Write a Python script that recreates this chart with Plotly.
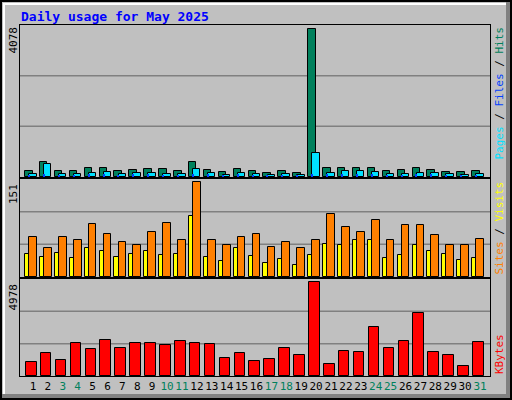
import plotly.graph_objects as go
from plotly.subplots import make_subplots

days = list(range(1, 32))
weekend = [3, 4, 10, 11, 17, 18, 24, 25, 31]
hits = [175, 425, 175, 175, 260, 260, 175, 205, 230, 230, 175, 425, 205, 150, 230, 175,
        120, 175, 120, 4078, 260, 260, 260, 260, 175, 205, 260, 205, 150, 150, 175]
files = [92, 370, 92, 92, 120, 148, 92, 120, 120, 92, 92, 230, 120, 65, 120, 92,
         65, 92, 65, 650, 120, 175, 175, 148, 92, 92, 120, 120, 92, 65, 92]
pages = [60, 80, 55, 60, 70, 75, 60, 70, 70, 60, 60, 90, 70, 45, 70, 60,
         45, 60, 45, 90, 70, 80, 80, 75, 60, 60, 70, 70, 60, 45, 60]
visits = [64, 46, 64, 58, 84, 68, 55, 51, 71, 86, 58, 151, 59, 51, 64, 69,
          48, 55, 46, 59, 100, 79, 71, 90, 58, 82, 82, 66, 51, 51, 61]
sites = [37, 32, 38, 30, 46, 41, 32, 37, 41, 35, 37, 97, 32, 25, 46, 33,
         22, 28, 19, 35, 53, 51, 59, 58, 30, 35, 50, 41, 37, 27, 30]
kbytes = [727, 1217, 836, 1763, 1435, 1926, 1490, 1763, 1763, 1653, 1871, 1763, 1708, 945, 1217, 781,
          890, 1490, 1108, 4978, 618, 1326, 1272, 2580, 1490, 1871, 3343, 1272, 1108, 509, 1817]

W, H = 512, 400
L, R = 20, 22
# panel pixel rows (top, bottom)
panels = [(25, 177), (179, 277), (279, 376)]
doms = [[1 - b / H, 1 - t / H] for t, b in panels]


def px(x):
    # pixel column -> paper x (paper is relative to the plot area)
    return (x - L) / (W - L - R)


fig = make_subplots(rows=3, cols=1, shared_xaxes=True)
line = dict(color='black', width=1)
fig.add_trace(go.Bar(x=days, y=hits, offset=-0.53, width=0.5, marker=dict(color='#00805c', line=line)), row=1, col=1)
fig.add_trace(go.Bar(x=days, y=files, offset=-0.26, width=0.5, marker=dict(color='#00e0ff', line=line)), row=1, col=1)
fig.add_trace(go.Bar(x=days, y=pages, offset=-0.3, width=0.07, marker=dict(color='#0040ff', line=dict(width=0))), row=1, col=1)
fig.add_trace(go.Bar(x=days, y=sites, offset=-0.53, width=0.27, marker=dict(color='#ffff00', line=line)), row=2, col=1)
fig.add_trace(go.Bar(x=days, y=visits, offset=-0.26, width=0.52, marker=dict(color='#ff8000', line=line)), row=2, col=1)
fig.add_trace(go.Bar(x=days, y=kbytes, offset=-0.47, width=0.71, marker=dict(color='#ff0000', line=line)), row=3, col=1)

ticktext = ["<span style='color:%s'>%d</span>" % ('#00805c' if d in weekend else 'black', d) for d in days]
font = dict(family='DejaVu Sans Mono', size=11, color='black')
for i in range(3):
    ax = 'xaxis' if i == 0 else 'xaxis%d' % (i + 1)
    ay = 'yaxis' if i == 0 else 'yaxis%d' % (i + 1)
    fig.layout[ax].update(range=[0.13, 31.67], showgrid=False, showline=True, linecolor='black',
                          mirror=True, zeroline=False, fixedrange=True, showticklabels=(i == 2),
                          tickvals=days, ticktext=ticktext, ticks='', tickfont=font, tickangle=0,
                          automargin=False)
    fig.layout[ay].update(domain=doms[i], showticklabels=False, showgrid=False, zeroline=False,
                          showline=True, linecolor='black', mirror=True, fixedrange=True)
    yref = 'y' if i == 0 else 'y%d' % (i + 1)
    for f in (1 / 3, 2 / 3):
        fig.add_shape(type='line', xref='x domain' if i == 0 else 'x%d domain' % (i + 1),
                      yref=yref + ' domain', x0=0, x1=1, y0=f, y1=f,
                      line=dict(color='#808080', width=1.5), layer='below')
fig.update_yaxes(range=[0, 4078 * 1.03], row=1, col=1)
fig.update_yaxes(range=[0, 151 * 1.03], row=2, col=1)
fig.update_yaxes(range=[0, 4978 * 1.03], row=3, col=1)

anns = [
    dict(text='4078', y=1 - 25 / H),
    dict(text='151', y=1 - 182 / H),
    dict(text='4978', y=1 - 282 / H),
]
for a in anns:
    fig.add_annotation(xref='paper', yref='paper', x=px(13), xanchor='center', yanchor='top', textangle=-90,
                       showarrow=False, font=font, **a)
mono = dict(family='DejaVu Sans Mono', size=11)
rights = [
    ("<span style='color:#00e0ff'>Pages</span> / <span style='color:#0040ff'>Files</span> / "
     "<span style='color:#00805c'>Hits</span>", 1 - 25 / H, 'top'),
    ("<span style='color:#ff8000'>Sites</span> / <span style='color:#ffff00'>Visits</span>", 1 - 277 / H, 'bottom'),
    ("<span style='color:#ff0000'>KBytes</span>", 1 - 376 / H, 'bottom'),
]
for t, y, anc in rights:
    fig.add_annotation(text=t, xref='paper', yref='paper', x=px(499), y=y, xanchor='center', yanchor=anc,
                       textangle=-90, showarrow=False, font=dict(color='black', **mono))
fig.add_annotation(text='<b>Daily usage for May 2025</b>', xref='paper', yref='paper', x=px(19), y=1 - 7 / H,
                   xanchor='left', yanchor='top', showarrow=False,
                   font=dict(family='DejaVu Sans Mono', size=13, color='#0000ff'))
# bevelled frame
fig.add_shape(type='rect', xref='paper', yref='paper', x0=px(1), x1=px(W - 1), y0=1 / H, y1=1 - 1 / H,
              line=dict(color='black', width=2))
fig.add_shape(type='rect', xref='paper', yref='paper', x0=px(4), x1=px(W - 5), y0=5 / H, y1=1 - 4 / H,
              line=dict(color='white', width=2))
fig.add_shape(type='rect', xref='paper', yref='paper', x0=px(W - 6), x1=px(W - 2), y0=2 / H, y1=1 - 2 / H,
              line=dict(width=0), fillcolor='#808080')
fig.add_shape(type='rect', xref='paper', yref='paper', x0=px(2), x1=px(W - 2), y0=2 / H, y1=6 / H,
              line=dict(width=0), fillcolor='#808080')

fig.update_layout(width=W, height=H, margin=dict(l=L, r=R, t=0, b=0), showlegend=False,
                  paper_bgcolor='#c0c0c0', plot_bgcolor='#c0c0c0', barmode='overlay', bargap=0)
fig.write_html("out.html", config={'displayModeBar': False},
               post_script="document.body.style.margin='0';document.body.style.overflow='hidden';")
